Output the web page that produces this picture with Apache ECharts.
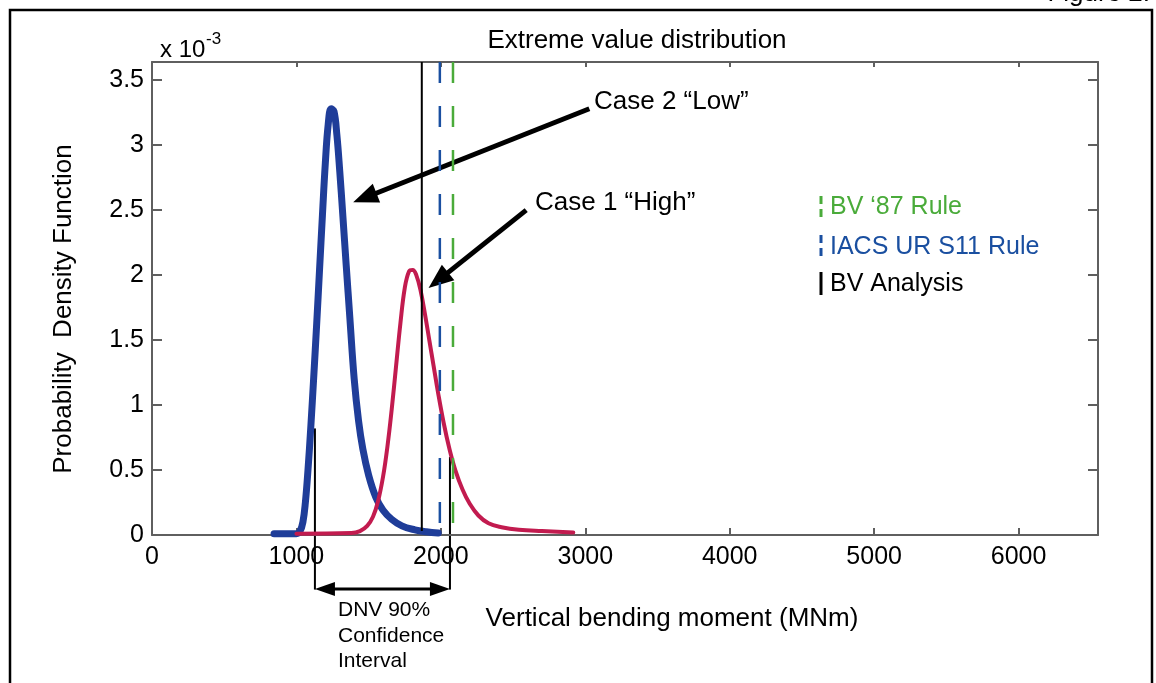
<!DOCTYPE html>
<html>
<head>
<meta charset="utf-8">
<title>Extreme value distribution</title>
<script src="https://cdn.jsdelivr.net/npm/echarts@6/dist/echarts.min.js"></script>
<style>
  html, body { margin: 0; padding: 0; background: #fff; }
  #main { width: 1156px; height: 683px; }
</style>
</head>
<body>
<div id="main"></div>
<script>
// pdf values are in units of 1e-3 (the "x 10^-3" multiplier above the y axis)
const lowX = [845, 1000, 1025, 1045, 1062, 1080, 1100, 1120, 1140, 1160, 1180, 1200, 1220, 1240, 1260, 1280, 1300, 1320, 1345, 1370, 1400, 1430, 1460, 1500, 1550, 1600, 1660, 1730, 1820, 1900, 1982]
const lowY = [0.01, 0.01, 0.03, 0.1, 0.25, 0.5, 0.84, 1.22, 1.62, 2.04, 2.46, 2.86, 3.16, 3.28, 3.26, 3.08, 2.8, 2.48, 2.07, 1.67, 1.2, 0.88, 0.66, 0.46, 0.29, 0.19, 0.12, 0.07, 0.04, 0.025, 0.015]

const highX = [1000, 1380, 1440, 1490, 1530, 1565, 1600, 1630, 1660, 1690, 1720, 1750, 1780, 1805, 1830, 1860, 1890, 1920, 1950, 1980, 2020, 2060, 2100, 2150, 2200, 2260, 2330, 2420, 2540, 2700, 2917]
const highY = [0.01, 0.015, 0.03, 0.07, 0.14, 0.26, 0.45, 0.68, 0.97, 1.3, 1.63, 1.9, 2.03, 2.04, 2.0, 1.88, 1.7, 1.5, 1.3, 1.1, 0.86, 0.66, 0.5, 0.35, 0.24, 0.15, 0.09, 0.06, 0.04, 0.03, 0.02]

// vertical reference lines (MNm)
const bvAnalysisX = 1868
const iacsRuleX = 1993
const bv87RuleX = 2084

// DNV 90% confidence interval bracket (drawn below the axis)
const dnvLimits = [1128, 2063]
const dnvTops = [0.82, 0.6]
const dnvBottom = -0.42
const dnvArrowY = -0.415

// leader arrows: [label end, curve end]
const lowArrow = [[3028, 3.28], [1393, 2.56]]
const highArrow = [[2591, 2.5], [1915, 1.9]]

const xMax = 6550
const yMax = 3.64

const font = 'Liberation Sans, Arial, Helvetica, sans-serif'
const axisColor = '#5f5f5f'
const blue = '#1f3d99'
const red = '#c21b4f'
const dashBlue = '#1a4fa0'
const green = '#4aab3a'

function zip(xs, ys) {
  return xs.map((x, i) => [x, ys[i]])
}

function vline(name, x, yTop, yBottom, color, width, dash) {
  return {
    name: name,
    type: 'line',
    data: [[x, yTop], [x, yBottom]],
    symbol: 'none',
    silent: true,
    z: 4,
    lineStyle: { color: color, width: width, type: dash || 'solid' },
  }
}

let myChart = echarts.init(document.getElementById('main'))

const axisBase = {
  type: 'value',
  splitLine: { show: false },
  axisLine: { show: true, onZero: false, lineStyle: { color: axisColor, width: 2 } },
}

myChart.setOption({
  animation: false,
  backgroundColor: '#fff',
  grid: { left: 152, right: 58, top: 62, bottom: 148 },
  xAxis: [
    Object.assign({}, axisBase, {
      min: 0, max: xMax, interval: 1000, position: 'bottom',
      axisTick: { show: true, inside: true, length: 7, lineStyle: { color: axisColor, width: 2 } },
      axisLabel: { margin: 10, fontSize: 25, fontFamily: font, color: '#000', showMaxLabel: false, formatter: (v) => String(v) },
    }),
    Object.assign({}, axisBase, {
      min: 0, max: xMax, interval: 1000, position: 'top',
      axisTick: { show: true, inside: true, length: 5, lineStyle: { color: axisColor, width: 2 } },
      axisLabel: { show: false },
    }),
  ],
  yAxis: [
    Object.assign({}, axisBase, {
      min: 0, max: yMax, interval: 0.5, position: 'left',
      axisTick: { show: true, inside: true, length: 10, lineStyle: { color: axisColor, width: 2 } },
      axisLabel: { margin: 8, fontSize: 25, fontFamily: font, color: '#000', showMaxLabel: false, formatter: (v) => String(v) },
    }),
    Object.assign({}, axisBase, {
      min: 0, max: yMax, interval: 0.5, position: 'right',
      axisTick: { show: true, inside: true, length: 10, lineStyle: { color: axisColor, width: 2 } },
      axisLabel: { show: false },
    }),
  ],
  series: [
    {
      name: 'Case 2 "Low"',
      type: 'line',
      data: zip(lowX, lowY),
      symbol: 'none',
      smooth: 0.4,
      z: 2,
      lineStyle: { color: blue, width: 7, join: 'round', cap: 'round' },
    },
    {
      name: 'Case 1 "High"',
      type: 'line',
      data: zip(highX, highY),
      symbol: 'none',
      smooth: 0.4,
      z: 3,
      lineStyle: { color: red, width: 4, join: 'round', cap: 'round' },
    },
    vline('BV Analysis', bvAnalysisX, yMax, 0.03, '#000', 2),
    vline('IACS UR S11 Rule', iacsRuleX, yMax, 0, dashBlue, 2.5, [21, 23]),
    vline("BV '87 Rule", bv87RuleX, yMax, 0, green, 2.5, [21, 23]),
  ],
})

// annotations placed through the axes' own scales
const toPx = (p) => [
  myChart.convertToPixel({ xAxisIndex: 0 }, p[0]),
  myChart.convertToPixel({ yAxisIndex: 0 }, p[1]),
]

function head(tip, ux, uy, len, half) {
  const bx = tip[0] - ux * len
  const by = tip[1] - uy * len
  return {
    type: 'polygon',
    shape: { points: [tip, [bx - uy * half, by + ux * half], [bx + uy * half, by - ux * half]] },
    style: { fill: '#000' },
  }
}

function arrow(from, to, width, len, half, both) {
  const a = toPx(from)
  const b = toPx(to)
  const d = Math.hypot(b[0] - a[0], b[1] - a[1])
  const ux = (b[0] - a[0]) / d
  const uy = (b[1] - a[1]) / d
  const start = both ? [a[0] + ux * (len - 1), a[1] + uy * (len - 1)] : a
  const end = [b[0] - ux * (len - 1), b[1] - uy * (len - 1)]
  const items = [
    { type: 'line', shape: { x1: start[0], y1: start[1], x2: end[0], y2: end[1] }, style: { stroke: '#000', lineWidth: width } },
    head(b, ux, uy, len, half),
  ]
  if (both) items.push(head(a, -ux, -uy, len, half))
  return items
}

function segment(p0, p1, width) {
  const a = toPx(p0)
  const b = toPx(p1)
  return { type: 'line', shape: { x1: a[0], y1: a[1], x2: b[0], y2: b[1] }, style: { stroke: '#000', lineWidth: width } }
}

function text(str, x, y, size, color, align, extra) {
  return Object.assign({
    type: 'text', x: x, y: y,
    style: { text: str, fontSize: size, fontFamily: font, fill: color || '#000', align: align || 'left', verticalAlign: 'middle' },
  }, extra || {})
}

function mark(x, y0, y1, color, dash) {
  return {
    type: 'line',
    shape: { x1: x, y1: y0, x2: x, y2: y1 },
    style: { stroke: color, lineWidth: 3, lineDash: dash || null },
  }
}

const graphics = [
  { type: 'rect', shape: { x: 10, y: 10, width: 1142, height: 700 }, style: { fill: null, stroke: '#000', lineWidth: 2.5 } },
  text('Figure 2.', 1150, -6, 26, '#000', 'right'),
  text('Extreme value distribution', 637, 41, 26, '#000', 'center'),
  text('x 10', 160, 50, 24),
  text('-3', 206, 39, 17),
  text('Probability  Density Function', 64, 309, 26, '#000', 'center', { rotation: Math.PI / 2 }),
  text('Vertical bending moment (MNm)', 672, 619, 26, '#000', 'center'),
  text('Case 2 \u201cLow\u201d', 594, 102, 26),
  text('Case 1 \u201cHigh\u201d', 535, 203, 26),
  text('BV \u201887 Rule', 830, 207, 25, green),
  text('IACS UR S11 Rule', 830, 247, 25, dashBlue),
  text('BV Analysis', 830, 284, 25, '#000'),
  mark(821, 196, 219, green, [8, 5]),
  mark(821, 235, 258, dashBlue, [8, 5]),
  mark(821, 272, 295, '#000'),
  text('DNV 90%', 338, 610, 21),
  text('Confidence', 338, 636, 21),
  text('Interval', 338, 661, 21),
  segment([dnvLimits[0], dnvTops[0]], [dnvLimits[0], dnvBottom], 2),
  segment([dnvLimits[1], dnvTops[1]], [dnvLimits[1], dnvBottom], 2),
]
  .concat(arrow([dnvLimits[0], dnvArrowY], [dnvLimits[1], dnvArrowY], 3, 20, 7, true))
  .concat(arrow(lowArrow[0], lowArrow[1], 5, 25, 10))
  .concat(arrow(highArrow[0], highArrow[1], 5, 25, 10))

myChart.setOption({ graphic: graphics })

window.addEventListener('resize', () => {
  myChart.resize()
})
</script>
</body>
</html>
